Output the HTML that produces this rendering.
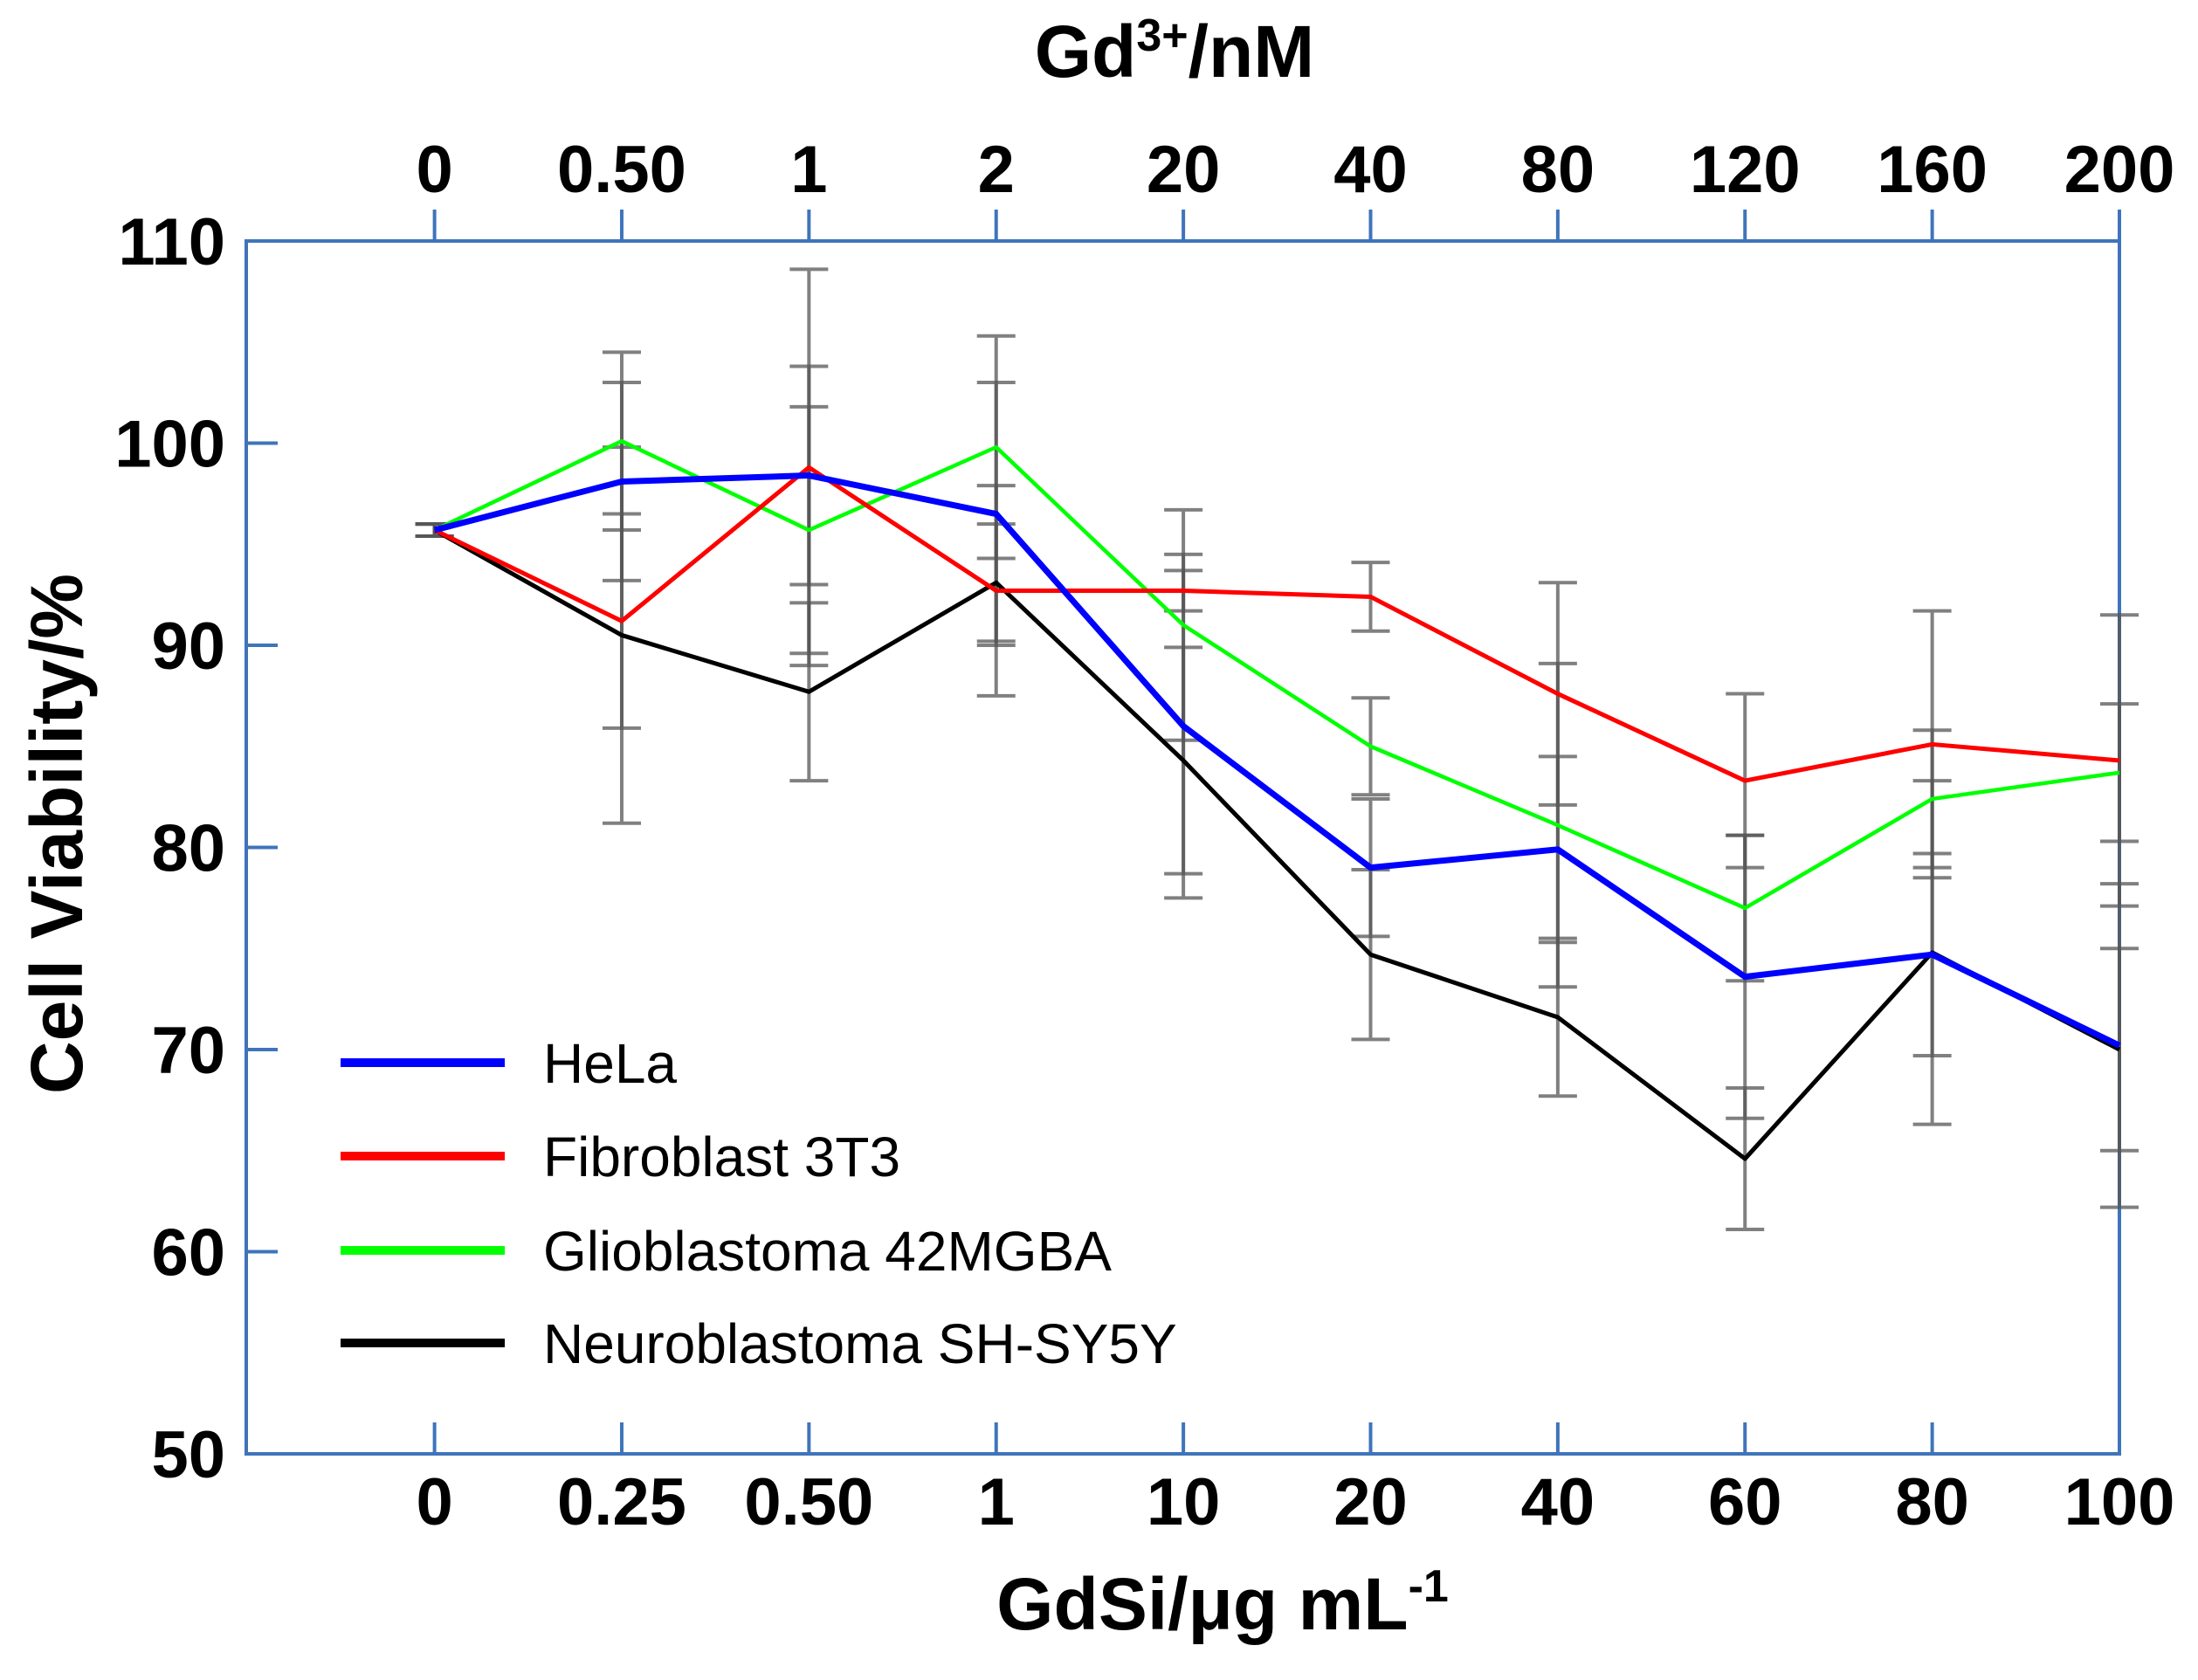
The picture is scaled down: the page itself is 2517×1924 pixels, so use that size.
<!DOCTYPE html>
<html><head><meta charset="utf-8"><style>
html,body{margin:0;padding:0;background:#fff}
svg text{font-family:"Liberation Sans",Arial,sans-serif}
</style></head><body>
<svg id="chart" width="2517" height="1919" viewBox="0 0 2517 1919" xmlns="http://www.w3.org/2000/svg">
<g id="frame"></g><g id="err"></g><g id="lines"></g><g id="labels"></g><g id="legend"></g>
</svg>
<script>
const bottomLabels = ["0","0.25","0.50","1","10","20","40","60","80","100"];
const topLabels = ["0","0.50","1","2","20","40","80","120","160","200"];
const yTicks = [50,60,70,80,90,100,110];
const seriesNames = ["HeLa","Fibroblast 3T3","Glioblastoma 42MGBA","Neuroblastoma SH-SY5Y"];
const helaVals = [95.7,98.1,98.4,96.5,86,79,79.9,73.6,74.7,70.2];
const fibroVals = [95.7,91.2,98.8,92.7,92.7,92.4,87.6,83.3,85.1,84.3];
const glioVals = [95.7,100.1,95.7,99.8,91,85,81.1,77,82.4,83.7];
const neuroVals = [95.7,90.5,87.7,93.1,84.3,74.7,71.6,64.6,74.8,70];
const helaErr = [0.3,4.9,5.4,6.5,8.5,3.4,4.6,7,5,8];
const fibroErr = [0.3,5.3,9.8,5.2,1,1.7,5.5,4.3,6.6,7.2];
const glioErr = [0.3,4.4,6.1,5.5,5.7,2.4,8,3.6,3.4,3.4];
const neuroErr = [0.3,9.3,4.4,2.9,5.6,4.2,3.9,3.5,8.5,5];

const NS="http://www.w3.org/2000/svg";
const L=282,R=2427,T=276,B=1665;
const x0=497.6, dx=(2427-497.6)/9;
function xs(i){return x0+dx*i;}
function ys(v){return B-(v-50)*(B-T)/60;}
function mk(parent,tag,attrs){const e=document.createElementNS(NS,tag);for(const k in attrs)e.setAttribute(k,attrs[k]);document.getElementById(parent).appendChild(e);return e;}
const AX="#3f74ba";
let f=mk("frame","path",{d:`M${L},${B} L${L},${T} L${R},${T} L${R},${B} Z`,fill:"none",stroke:AX,"stroke-width":4});


for(let i=0;i<bottomLabels.length;i++){
  const x=xs(i);
  let t1=mk("frame","line",{x1:x,y1:T,x2:x,y2:T-36,stroke:AX,"stroke-width":4});
  
  
  let t2=mk("frame","line",{x1:x,y1:B,x2:x,y2:B-36,stroke:AX,"stroke-width":4});
  
  
  let a=mk("labels","text",{x:x,y:1746,"font-size":76,"font-weight":"bold","text-anchor":"middle"});
  a.textContent=bottomLabels[i];
  
  
  let b=mk("labels","text",{x:x,y:220,"font-size":76,"font-weight":"bold","text-anchor":"middle"});
  b.textContent=topLabels[i];
  
  
}
for(const v of yTicks){
  const y=ys(v);
  let t=mk("frame","line",{x1:L,y1:y,x2:L+36,y2:y,stroke:AX,"stroke-width":4});
  
  
  let a=mk("labels","text",{x:258,y:y+27,"font-size":76,"font-weight":"bold","text-anchor":"end"});
  a.textContent=v;
  
  
}
const allVals=[helaVals,fibroVals,glioVals,neuroVals];
const allErr=[helaErr,fibroErr,glioErr,neuroErr];
for(let s=0;s<4;s++){
  for(let i=0;i<helaVals.length;i++){
    const x=xs(i),hi=ys(allVals[s][i]+allErr[s][i]),lo=ys(allVals[s][i]-allErr[s][i]);
    let e=mk("err","path",{d:`M${x},${hi} L${x},${lo} M${x-22},${hi} L${x+22},${hi} M${x-22},${lo} L${x+22},${lo}`,stroke:"#555","stroke-opacity":0.75,"stroke-width":4,fill:"none"});
    
    
  }
}
const colors=["#0000ff","#ff0000","#00ff00","#000000"];
const widths=[7,5,4.5,5];
const draw=[3,2,1,0];
for(const s of draw){
  const d=allVals[s].map((v,i)=>(i?"L":"M")+xs(i)+","+ys(v)).join(" ");
  let p=mk("lines","path",{d:d,fill:"none",stroke:colors[s],"stroke-width":widths[s],"stroke-linejoin":"round"});
  
  
}
const legY=[1217,1324,1432,1538];
for(let s=0;s<4;s++){
  let l=mk("legend","line",{x1:390,y1:legY[s],x2:578,y2:legY[s],stroke:colors[s],"stroke-width":10});
  
  
  let t=mk("legend","text",{x:622,y:legY[s]+23,"font-size":64});
  t.textContent=seriesNames[s];
  
  
}
let tt=mk("labels","text",{x:1345,y:88,"font-size":84,"font-weight":"bold","text-anchor":"middle"});
tt.innerHTML='Gd<tspan dy="-30" font-size="52">3+</tspan><tspan dy="30">/nM</tspan>';


let bt=mk("labels","text",{x:1400,y:1866,"font-size":84,"font-weight":"bold","text-anchor":"middle"});
bt.innerHTML='GdSi/μg mL<tspan dy="-32" font-size="52">-1</tspan>';


let yt=mk("labels","text",{x:0,y:0,"font-size":84,"font-weight":"bold","text-anchor":"middle",transform:"translate(94,955) rotate(-90)"});
yt.textContent="Cell Viability/%";


</script>
</body></html>
